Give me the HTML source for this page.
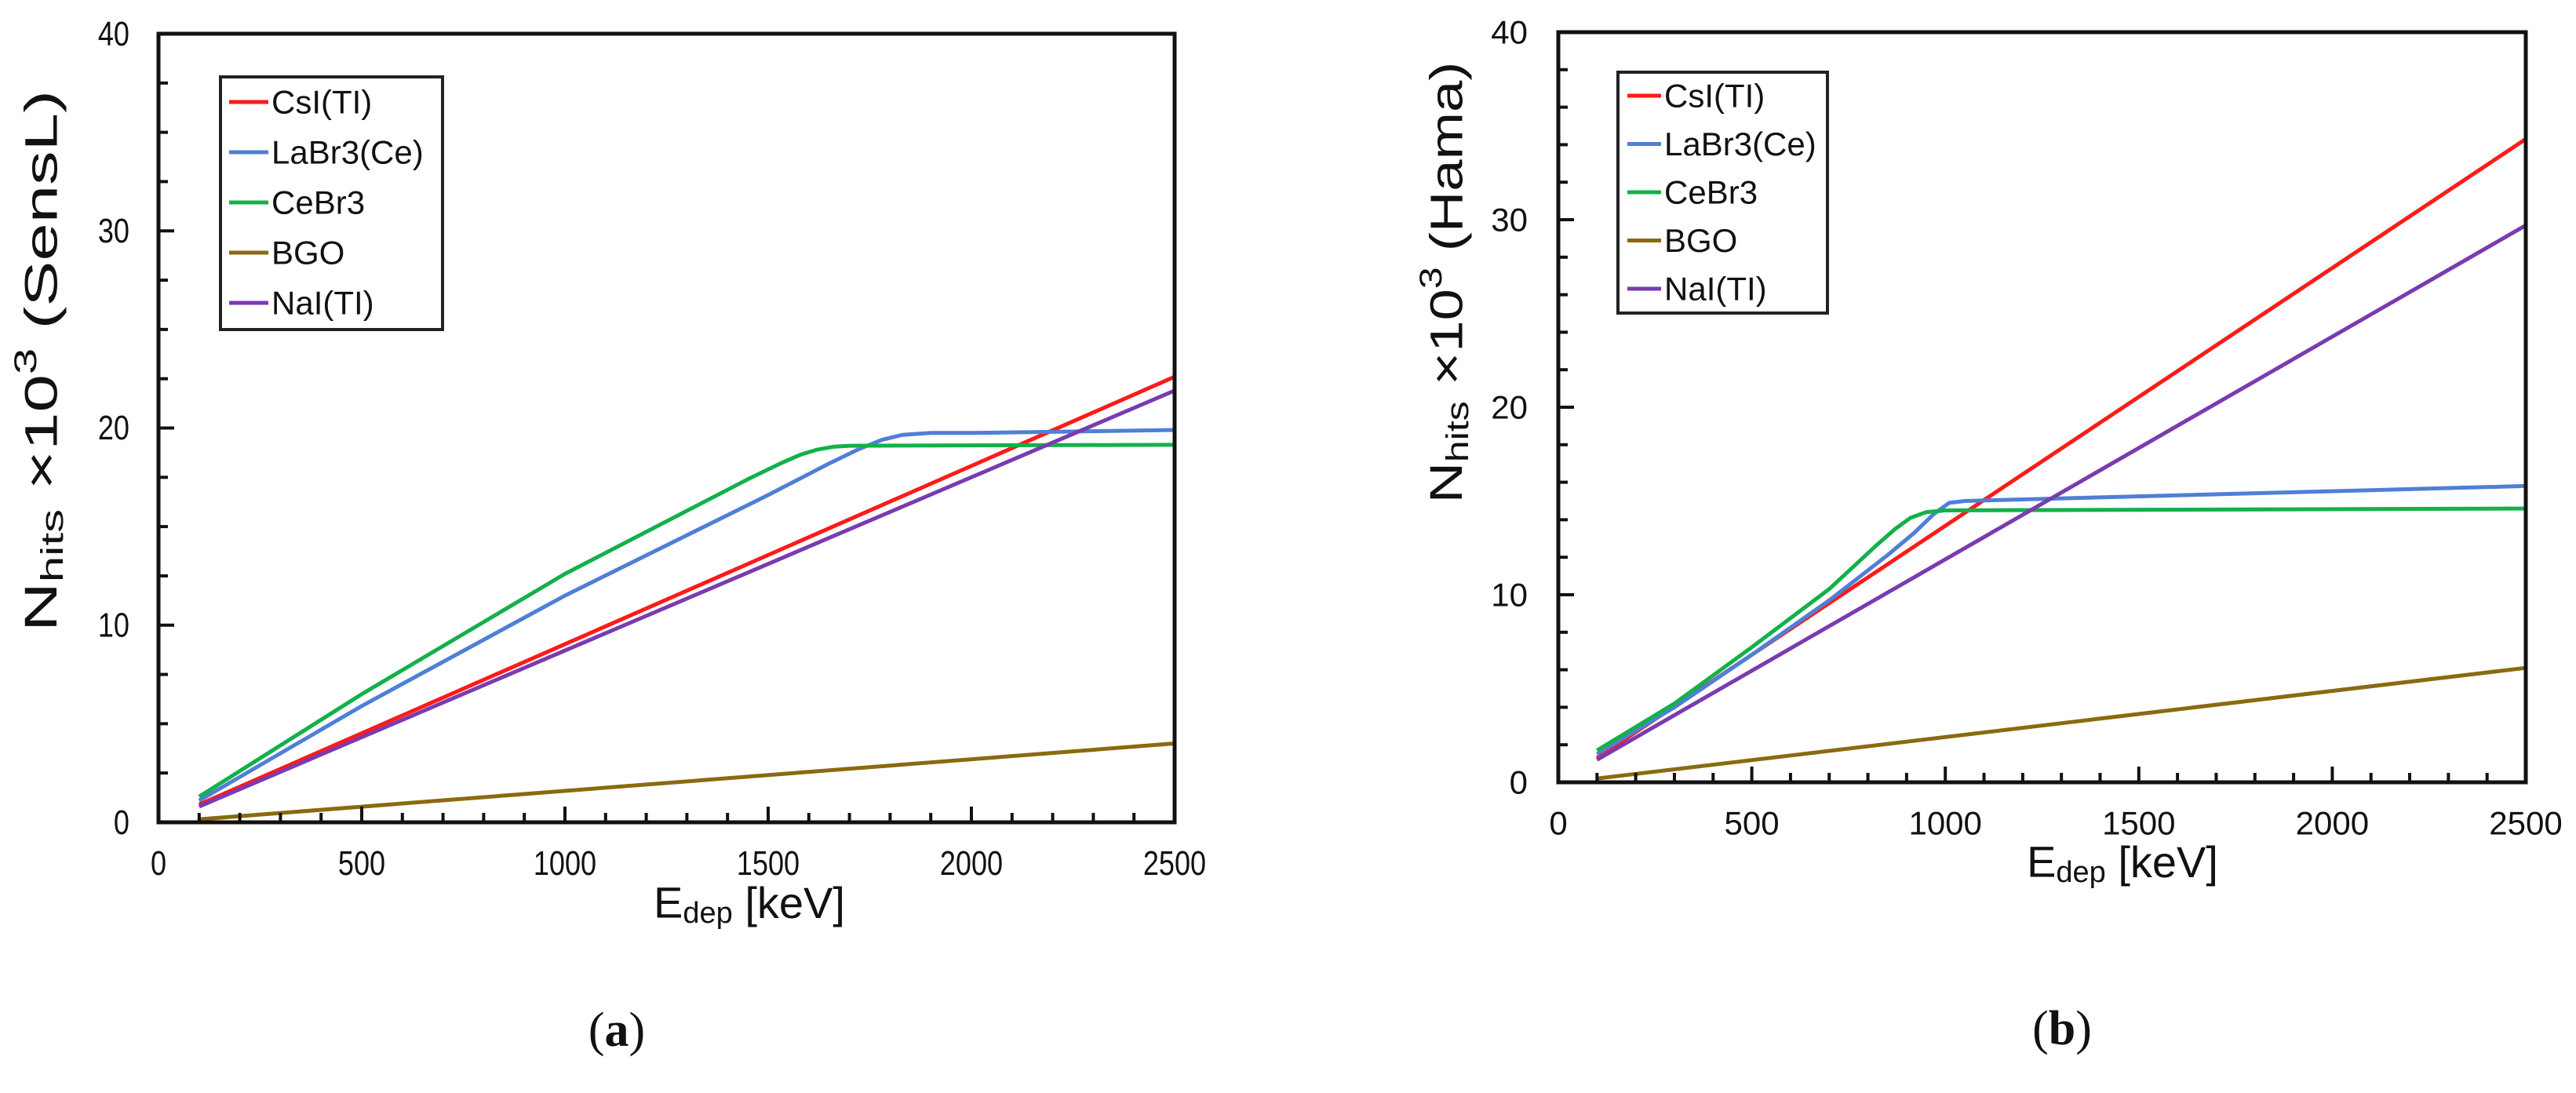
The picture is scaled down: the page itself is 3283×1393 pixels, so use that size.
<!DOCTYPE html>
<html><head><meta charset="utf-8"><style>
html,body{margin:0;padding:0;background:#fff}
svg{display:block;font-family:"Liberation Sans",sans-serif}
</style></head><body>
<svg id="fig" width="3283" height="1393" viewBox="0 0 3283 1393" xmlns="http://www.w3.org/2000/svg">
<rect x="0" y="0" width="3283" height="1393" fill="#fff"/>
</svg>
<script>
// ---- Chart (a): SensL ----
const seriesNames = ["CsI(TI)","LaBr3(Ce)","CeBr3","BGO","NaI(TI)"];
const seriesColors = ["#ff1a1a","#4f7fd6","#14b04a","#8a6a10","#7a3bb0"];
const xTickLabels = ["0","500","1000","1500","2000","2500"];
const yTickLabels = ["0","10","20","30","40"];

const aCsI_x = [100,2500];           const aCsI_y = [0.9,22.6];
const aLaBr_x = [100,500,1000,1500,1650,1720,1780,1830,1900,2000,2500];
const aLaBr_y = [1.1,5.9,11.5,16.6,18.2,18.9,19.4,19.65,19.75,19.75,19.9];
const aCeBr_x = [100,500,1000,1450,1530,1580,1620,1660,1700,2500];
const aCeBr_y = [1.3,6.5,12.6,17.4,18.2,18.65,18.9,19.05,19.1,19.15];
const aBGO_x = [100,2500];           const aBGO_y = [0.15,4.0];
const aNaI_x = [100,2500];           const aNaI_y = [0.8,21.9];

// ---- Chart (b): Hama ----
const bCsI_x = [100,2500];           const bCsI_y = [1.3,34.3];
const bLaBr_x = [100,300,500,700,850,920,970,1010,1050,2500];
const bLaBr_y = [1.5,4.0,6.8,9.7,12.1,13.3,14.3,14.9,15.0,15.8];
const bCeBr_x = [100,300,500,700,820,870,910,950,1000,2500];
const bCeBr_y = [1.7,4.2,7.2,10.3,12.6,13.5,14.1,14.4,14.5,14.6];
const bBGO_x = [100,2500];           const bBGO_y = [0.2,6.1];
const bNaI_x = [100,2500];           const bNaI_y = [1.2,29.7];

const NS="http://www.w3.org/2000/svg";
const svg=document.getElementById('fig');
function mk(tag,attrs,parent){const e=document.createElementNS(NS,tag);for(const k in attrs)e.setAttribute(k,attrs[k]);(parent||svg).appendChild(e);return e;}

function drawChart(cfg){
  const g=mk('g',{});
  
  
  const X=v=>cfg.L+(v-0)/(2500)*(cfg.R-cfg.L);
  const Y=v=>cfg.B-(v/40)*(cfg.B-cfg.T);
  cfg.series.forEach((s,i)=>{
    const pts=s.x.map((xv,j)=>X(xv).toFixed(1)+","+Y(s.y[j]).toFixed(1)).join(" ");
    const p=mk('polyline',{points:pts,fill:'none',stroke:seriesColors[i],'stroke-width':5,'stroke-linejoin':'round','stroke-linecap':'butt'},g);
    
    
  });
  const fr=mk('rect',{x:cfg.L,y:cfg.T,width:cfg.R-cfg.L,height:cfg.B-cfg.T,fill:'none',stroke:'#111','stroke-width':5},g);
  
  
  for(let v=0;v<=2500;v+=100){
    const maj=v%500===0;
    mk('line',{x1:X(v),x2:X(v),y1:cfg.B,y2:cfg.B-(maj?20:12),stroke:'#111','stroke-width':4},g);
  }
  xTickLabels.forEach(t=>{
    const tx=mk('text',{x:X(+t),y:cfg.xLabY,'font-size':cfg.tickFS,'text-anchor':'middle','dominant-baseline':'central',fill:'#111',transform:`translate(${X(+t)},0) scale(${cfg.sx},1) translate(${-X(+t)},0)`},g);
    tx.textContent=t;
    
    
  });
  for(let v=0;v<=40;v+=cfg.yMinor){
    const maj=Math.abs(v%10)<1e-6;
    mk('line',{x1:cfg.L,x2:cfg.L+(maj?20:12),y1:Y(v),y2:Y(v),stroke:'#111','stroke-width':4},g);
  }
  yTickLabels.forEach(t=>{
    const tx=mk('text',{x:cfg.yLabX,y:Y(+t),'font-size':cfg.tickFS,'text-anchor':'end','dominant-baseline':'central',fill:'#111',transform:`translate(${cfg.yLabX},0) scale(${cfg.sx},1) translate(${-cfg.yLabX},0)`},g);
    tx.textContent=t;
    
    
  });
  const xt=mk('text',{x:cfg.xTitleX,y:cfg.xTitleY,'font-size':56,'text-anchor':'middle','dominant-baseline':'central',fill:'#111'},g);
  xt.innerHTML='E<tspan font-size="38" dy="14">dep</tspan><tspan dy="-14"> [keV]</tspan>';
  
  
  const yt=mk('text',{x:0,y:0,'font-size':58,'text-anchor':'middle','dominant-baseline':'central',fill:'#111',transform:`translate(${cfg.yTitleX},${cfg.yTitleY}) rotate(-90) scale(${cfg.yTitleSX},1)`},g);
  yt.innerHTML='N<tspan font-size="40" dy="14">hits</tspan><tspan dy="-14"> ×10</tspan><tspan font-size="40" dy="-20">3</tspan><tspan dy="20"> ('+cfg.det+')</tspan>';
  
  
  const lg=mk('g',{},g);
  
  
  mk('rect',{x:cfg.lg.x,y:cfg.lg.y,width:cfg.lg.w,height:cfg.lg.h,fill:'#fff',stroke:'#222','stroke-width':4},lg);
  seriesNames.forEach((n,i)=>{
    const ey=cfg.lg.ey0+i*cfg.lg.dy;
    const le=mk('g',{},lg);
    
    
    mk('line',{x1:cfg.lg.lx1,x2:cfg.lg.lx2,y1:ey,y2:ey,stroke:seriesColors[i],'stroke-width':5},le);
    const t=mk('text',{x:cfg.lg.tx,y:ey,'font-size':cfg.lg.fs,'dominant-baseline':'central',fill:'#111'},le);
    t.textContent=n;
  });
  const cp=mk('text',{x:cfg.capX,y:cfg.capY,'font-size':62,'text-anchor':'middle','dominant-baseline':'central','font-family':'"Liberation Serif",serif',fill:'#111'},g);
  cp.innerHTML='(<tspan font-weight="bold">'+cfg.cap+'</tspan>)';
  
  
}

drawChart({id:'chart-sensl',L:202,R:1497,T:43,B:1048,yMinor:2.5,tickFS:44,sx:0.82,xLabY:1100,yLabX:165,
  xTitleX:955,xTitleY:1150,yTitleX:52,yTitleY:460,yTitleSX:1.5,det:'SensL',capX:786,capY:1313,cap:'a',
  lg:{x:281,y:98,w:283,h:322,ey0:130,dy:64,lx1:292,lx2:342,tx:346,fs:42},
  series:[{x:aCsI_x,y:aCsI_y},{x:aLaBr_x,y:aLaBr_y},{x:aCeBr_x,y:aCeBr_y},{x:aBGO_x,y:aBGO_y},{x:aNaI_x,y:aNaI_y}]});

drawChart({id:'chart-hama',L:1986,R:3219,T:41,B:997,yMinor:2,tickFS:42,sx:1,xLabY:1049,yLabX:1947,
  xTitleX:2705,xTitleY:1098,yTitleX:1843,yTitleY:360,yTitleSX:1.25,det:'Hama',capX:2628,capY:1311,cap:'b',
  lg:{x:2062,y:92,w:267,h:307,ey0:122,dy:61.5,lx1:2074,lx2:2117,tx:2121,fs:42},
  series:[{x:bCsI_x,y:bCsI_y},{x:bLaBr_x,y:bLaBr_y},{x:bCeBr_x,y:bCeBr_y},{x:bBGO_x,y:bBGO_y},{x:bNaI_x,y:bNaI_y}]});
</script>
</body></html>
